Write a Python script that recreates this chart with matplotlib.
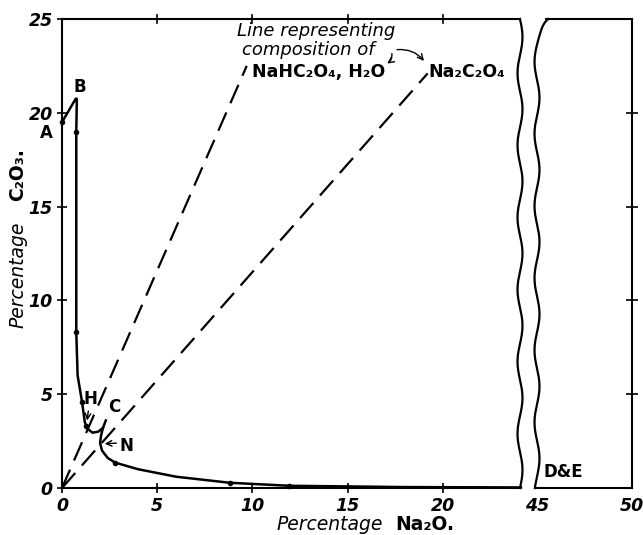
import numpy as np
import matplotlib
matplotlib.use("Agg")
import matplotlib.pyplot as plt
from matplotlib.lines import Line2D

# A - B - H - C branch
na2o_upper = [0.0, 0.72, 0.78, 0.75, 0.75, 0.82, 1.05, 1.2, 1.35, 1.6, 1.9, 2.15, 2.3]
c2o3_upper = [19.5, 20.75, 20.75, 19.0, 8.3, 6.0, 4.6, 3.5, 3.15, 2.95, 3.0, 3.2, 3.6]
# N - D&E branch
na2o_lower = [2.15, 2.05, 2.0, 2.1, 2.4, 2.8, 4.0, 6.0, 8.8, 11.9, 18.0, 24.1]
c2o3_lower = [3.2, 2.8, 2.4, 2.0, 1.6, 1.35, 1.0, 0.6, 0.28, 0.12, 0.05, 0.03]
# measured points
na2o_pts = [0.0, 0.75, 0.75, 1.05, 1.25, 2.8, 8.8, 11.9]
c2o3_pts = [19.5, 19.0, 8.3, 4.6, 3.3, 1.35, 0.28, 0.12]

# composition lines
nahc_x = [0, 9.7]
nahc_y = [0, 22.5]
na2c_x = [0, 19.2]
na2c_y = [0, 22.1]

W, H = 643, 535
fig = plt.figure(figsize=(W / 100, H / 100), dpi=100)

def fx(px):
    return px / W

def fy(py):
    return 1 - py / H

ax1 = fig.add_axes([fx(62), fy(488), (520 - 62) / W, (488 - 19) / H])
ax2 = fig.add_axes([fx(537), fy(488), (632 - 537) / W, (488 - 19) / H])

tickfont = dict(fontsize=12.5, fontweight='bold', fontstyle='italic')

ax1.plot(nahc_x, nahc_y, color='black', lw=1.6, linestyle=(0, (9, 4.5)))
ax1.plot(na2c_x, na2c_y, color='black', lw=1.6, linestyle=(0, (9, 4.5)))
ax1.plot(na2o_upper, c2o3_upper, color='black', lw=1.8, clip_on=False)
ax1.plot(na2o_lower, c2o3_lower, color='black', lw=1.8, clip_on=False)
ax1.plot(na2o_pts, c2o3_pts, 'o', color='black', ms=3, clip_on=False)

ax1.set_xlim(0, 24.05)
ax1.set_ylim(0, 25)
ax1.set_xticks([0, 5, 10, 15, 20])
ax1.set_xticklabels(['0', '5', '10', '15', '20'], **tickfont)
ax1.set_yticks([0, 5, 10, 15, 20, 25])
ax1.set_yticklabels(['0', '5', '10', '15', '20', '25'], **tickfont)
ax1.tick_params(direction='inout', length=7, width=1.2, pad=3)
ax1.spines['right'].set_visible(False)
for s in ['left', 'bottom', 'top']:
    ax1.spines[s].set_linewidth(1.5)

# top ticks of the left panel, no labels
for t in [5, 10, 15, 20]:
    ax1.plot([t, t], [24.8, 25.2], color='black', lw=1.2, clip_on=False)

ax2.set_xlim(45, 50)
ax2.set_ylim(0, 25)
ax2.set_xticks([45, 50])
ax2.set_xticklabels(['45', '50'], **tickfont)
ax2.set_yticks([5, 10, 15, 20])
ax2.yaxis.tick_right()
ax2.set_yticklabels([])
ax2.tick_params(axis='y', direction='inout', length=8, width=1.2)
ax2.tick_params(axis='x', direction='inout', length=0, pad=6.5)
ax2.spines['left'].set_visible(False)
ax2.spines['top'].set_visible(False)
for s in ['right', 'bottom']:
    ax2.spines[s].set_linewidth(1.5)

# wavy break lines
yy = np.linspace(19, 488, 200)
x_left = 520 + 2.5 * np.sin((yy - 19) / 469 * 2 * np.pi * 6.5)
x_right = 537 + 2.5 * np.sin((yy - 19) / 469 * 2 * np.pi * 6.5 + 1.0) + 9 * np.exp(-(yy - 19) / 7)
fig.add_artist(Line2D(fx(x_left), fy(yy), color='black', lw=1.6))
fig.add_artist(Line2D(fx(x_right), fy(yy), color='black', lw=1.6))
fig.add_artist(Line2D([fx(546), fx(632)], [fy(19), fy(19)], color='black', lw=1.5))

# point labels
lab = dict(fontsize=12, fontweight='bold', ha='center', va='center')
ax1.text(-0.8, 18.9, 'A', clip_on=False, **lab)
ax1.text(0.95, 21.4, 'B', **lab)
ax1.text(1.5, 4.75, 'H', **lab)
ax1.text(2.75, 4.3, 'C', **lab)
ax1.text(3.4, 2.25, 'N', **lab)
ax2.text(45.35, 0.85, 'D&E', fontsize=12, fontweight='bold', ha='left', va='center')
ax1.annotate('', xy=(1.3, 3.45), xytext=(1.4, 4.25),
             arrowprops=dict(arrowstyle='->', color='black', lw=1))
ax1.annotate('', xy=(2.1, 2.35), xytext=(3.0, 2.4),
             arrowprops=dict(arrowstyle='->', color='black', lw=1))

ax1.text(9.2, 24.35, 'Line representing', fontsize=13, fontstyle='italic',
         ha='left', va='center')
ax1.text(9.45, 23.35, 'composition of', fontsize=13, fontstyle='italic',
         ha='left', va='center')
ax1.text(10.0, 22.2, 'NaHC₂O₄, H₂O', fontsize=12.5, fontweight='bold',
         ha='left', va='center')
ax1.text(19.25, 22.15, 'Na₂C₂O₄', fontsize=12.5, fontweight='bold',
         ha='left', va='center')
ax1.annotate('', xy=(16.95, 22.55), xytext=(17.3, 23.3),
             arrowprops=dict(arrowstyle='->', color='black', lw=1,
                             connectionstyle='arc3,rad=-0.4'))
ax1.annotate('', xy=(19.1, 22.65), xytext=(17.45, 23.35),
             arrowprops=dict(arrowstyle='->', color='black', lw=1,
                             connectionstyle='arc3,rad=-0.3'))

# axis titles
fig.text(fx(330), fy(525), 'Percentage', fontsize=13.5, fontstyle='italic',
         ha='center', va='center')
fig.text(fx(425), fy(525), 'Na₂O.', fontsize=13.5, fontweight='bold',
         ha='center', va='center')
fig.text(fx(18), fy(275), 'Percentage', fontsize=13.5, fontstyle='italic',
         rotation=90, ha='center', va='center')
fig.text(fx(18), fy(175), 'C₂O₃.', fontsize=13.5, fontweight='bold', rotation=90,
         ha='center', va='center')

fig.savefig('out.png', dpi=100)
